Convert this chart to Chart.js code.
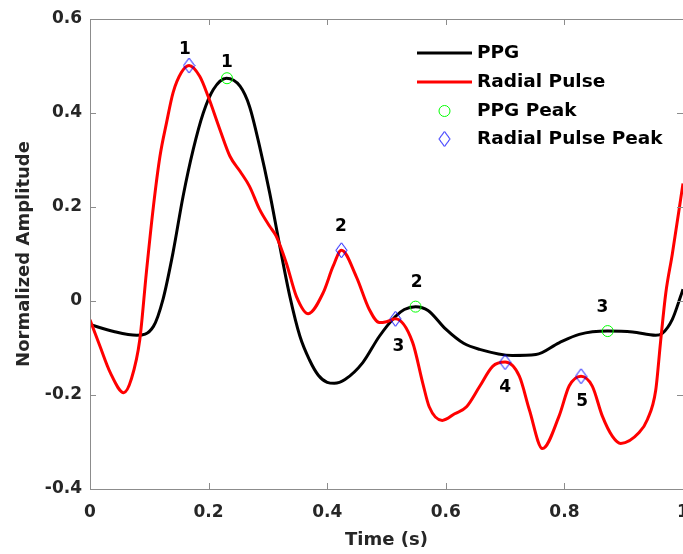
<!DOCTYPE html>
<html>
<head>
<meta charset="utf-8">
<script src="https://cdn.jsdelivr.net/npm/chart.js@4.4.1/dist/chart.umd.min.js"></script>
<style>
  body { margin: 0; background: #fff; }
  canvas { display: block; }
</style>
</head>
<body>
<canvas id="chart" width="683" height="554"></canvas>
<script>
// values
const ppgTime = [0, 0.04, 0.079, 0.107, 0.123, 0.14, 0.157, 0.174, 0.191, 0.208, 0.23, 0.253, 0.269, 0.286, 0.303, 0.32, 0.337, 0.354, 0.37, 0.385, 0.4, 0.412, 0.43, 0.46, 0.488, 0.515, 0.53, 0.549, 0.57, 0.6, 0.63, 0.657, 0.712, 0.752, 0.791, 0.825, 0.873, 0.915, 0.954, 0.965, 0.982, 0.996, 1.0];
const ppgValues = [-0.05, -0.065, -0.073, -0.054, 0.003, 0.103, 0.223, 0.322, 0.40, 0.45, 0.474, 0.457, 0.414, 0.329, 0.23, 0.117, 0.01, -0.075, -0.125, -0.158, -0.173, -0.175, -0.167, -0.131, -0.075, -0.033, -0.018, -0.012, -0.02, -0.06, -0.09, -0.103, -0.116, -0.114, -0.089, -0.071, -0.064, -0.066, -0.073, -0.069, -0.039, 0.01, 0.025];

const radialTime = [0, 0.017, 0.034, 0.057, 0.07, 0.084, 0.095, 0.107, 0.118, 0.129, 0.14, 0.154, 0.167, 0.185, 0.199, 0.219, 0.236, 0.253, 0.269, 0.286, 0.303, 0.314, 0.331, 0.348, 0.368, 0.393, 0.41, 0.424, 0.449, 0.471, 0.488, 0.5, 0.515, 0.544, 0.561, 0.572, 0.594, 0.615, 0.635, 0.657, 0.679, 0.7, 0.724, 0.741, 0.763, 0.791, 0.808, 0.828, 0.847, 0.864, 0.881, 0.895, 0.926, 0.94, 0.954, 0.962, 0.971, 0.982, 1.0];
const radialValues = [-0.04, -0.097, -0.152, -0.195, -0.165, -0.082, 0.06, 0.202, 0.308, 0.379, 0.443, 0.486, 0.501, 0.478, 0.436, 0.365, 0.308, 0.276, 0.244, 0.195, 0.159, 0.138, 0.081, 0.01, -0.027, 0.017, 0.074, 0.108, 0.052, -0.018, -0.046, -0.044, -0.038, -0.088, -0.174, -0.225, -0.254, -0.24, -0.225, -0.182, -0.139, -0.13, -0.16, -0.232, -0.314, -0.245, -0.181, -0.16, -0.181, -0.245, -0.288, -0.303, -0.28, -0.252, -0.19, -0.089, 0.017, 0.10, 0.25];

const ppgPeakTime = [0.231, 0.549, 0.873];
const ppgPeakValues = [0.474, -0.012, -0.064];
const ppgPeakLabels = ['1', '2', '3'];
const ppgLabelTime = [0.231, 0.551, 0.864];
const ppgLabelValues = [0.507, 0.039, -0.014];

const radialPeakTime = [0.167, 0.424, 0.515, 0.70, 0.828];
const radialPeakValues = [0.501, 0.108, -0.038, -0.13, -0.16];
const radialPeakLabels = ['1', '2', '3', '4', '5'];
const radialLabelTime = [0.160, 0.423, 0.520, 0.700, 0.830];
const radialLabelValues = [0.535, 0.158, -0.097, -0.184, -0.214];

const seriesNames = ['PPG', 'Radial Pulse', 'PPG Peak', 'Radial Pulse Peak'];

const xTicks = [0, 0.2, 0.4, 0.6, 0.8, 1];
const yTicks = [-0.4, -0.2, 0, 0.2, 0.4, 0.6];

const FONT = 'DejaVu Sans';
const axisGray = '#8c8c8c';
const textColor = '#262626';

const toPoints = (xs, ys) => xs.map((x, i) => ({ x: x, y: ys[i] }));

// tall thin diamond like matlab's marker
const makeDiamond = () => {
  const c = document.createElement('canvas');
  c.width = 13;
  c.height = 17;
  const g = c.getContext('2d');
  g.strokeStyle = '#0000ff';
  g.lineWidth = 1;
  g.beginPath();
  g.moveTo(6.5, 1);
  g.lineTo(12, 8.5);
  g.lineTo(6.5, 16);
  g.lineTo(1, 8.5);
  g.closePath();
  g.stroke();
  return c;
};
const diamond = makeDiamond();

const fmt = (v) => String(Math.round(v * 10) / 10);

const fixedAxis = (size, isX) => (scale) => {
  if (isX) scale.height = size;
  else scale.width = size;
  scale.paddingLeft = 0;
  scale.paddingRight = 0;
  scale.paddingTop = 0;
  scale.paddingBottom = 0;
};

const decorations = {
  id: 'decorations',
  afterDraw(chart) {
    const ctx = chart.ctx;
    const a = chart.chartArea;
    const xs = chart.scales.x;
    const ys = chart.scales.y;
    ctx.save();

    // box and inward ticks
    ctx.strokeStyle = axisGray;
    ctx.lineWidth = 1;
    ctx.strokeRect(Math.round(a.left) + 0.5, Math.round(a.top) + 0.5,
      Math.round(a.right - a.left), Math.round(a.bottom - a.top));
    ctx.beginPath();
    xTicks.forEach((t) => {
      const px = Math.round(xs.getPixelForValue(t)) + 0.5;
      ctx.moveTo(px, a.bottom);
      ctx.lineTo(px, a.bottom - 6);
      ctx.moveTo(px, a.top);
      ctx.lineTo(px, a.top + 6);
    });
    yTicks.forEach((t) => {
      const py = Math.round(ys.getPixelForValue(t)) + 0.5;
      ctx.moveTo(a.left, py);
      ctx.lineTo(a.left + 6, py);
      ctx.moveTo(a.right, py);
      ctx.lineTo(a.right - 6, py);
    });
    ctx.stroke();

    // peak numbers
    ctx.fillStyle = '#000';
    ctx.font = `bold 17px "${FONT}"`;
    ctx.textAlign = 'center';
    ctx.textBaseline = 'middle';
    const putLabels = (times, values, labels) => {
      labels.forEach((lab, i) => {
        ctx.fillText(lab, xs.getPixelForValue(times[i]), ys.getPixelForValue(values[i]));
      });
    };
    putLabels(ppgLabelTime, ppgLabelValues, ppgPeakLabels);
    putLabels(radialLabelTime, radialLabelValues, radialPeakLabels);

    // legend
    const lx0 = 417;
    const lx1 = 472;
    const rows = [53, 82, 111, 139];
    ctx.lineWidth = 3;
    ctx.strokeStyle = '#000';
    ctx.beginPath();
    ctx.moveTo(lx0, rows[0]);
    ctx.lineTo(lx1, rows[0]);
    ctx.stroke();
    ctx.strokeStyle = '#ff0000';
    ctx.beginPath();
    ctx.moveTo(lx0, rows[1]);
    ctx.lineTo(lx1, rows[1]);
    ctx.stroke();
    ctx.lineWidth = 1;
    ctx.strokeStyle = '#00ff00';
    ctx.beginPath();
    ctx.arc((lx0 + lx1) / 2, rows[2], 5.5, 0, Math.PI * 2);
    ctx.stroke();
    ctx.drawImage(diamond, (lx0 + lx1) / 2 - 6.5, rows[3] - 8.5);

    ctx.fillStyle = '#000';
    ctx.font = `bold 18.5px "${FONT}"`;
    ctx.textAlign = 'left';
    seriesNames.forEach((name, i) => ctx.fillText(name, 477, rows[i]));

    ctx.restore();
  },
};

new Chart(document.getElementById('chart'), {
  type: 'scatter',
  data: {
    datasets: [
      {
        label: seriesNames[2],
        data: toPoints(ppgPeakTime, ppgPeakValues),
        pointStyle: 'circle',
        pointRadius: 5.5,
        borderColor: '#00ff00',
        backgroundColor: 'rgba(0,0,0,0)',
        borderWidth: 1,
        order: 0,
      },
      {
        label: seriesNames[3],
        data: toPoints(radialPeakTime, radialPeakValues),
        pointStyle: diamond,
        pointRadius: 6,
        order: 0,
      },
      {
        label: seriesNames[1],
        data: toPoints(radialTime, radialValues),
        showLine: true,
        borderColor: '#ff0000',
        borderWidth: 3,
        pointRadius: 0,
        cubicInterpolationMode: 'monotone',
        order: 1,
      },
      {
        label: seriesNames[0],
        data: toPoints(ppgTime, ppgValues),
        showLine: true,
        borderColor: '#000000',
        borderWidth: 3,
        pointRadius: 0,
        cubicInterpolationMode: 'monotone',
        order: 2,
      },
    ],
  },
  options: {
    responsive: false,
    animation: false,
    events: [],
    layout: { autoPadding: false, padding: { top: 19, right: -1, left: 0, bottom: 0 } },
    plugins: {
      legend: { display: false },
      tooltip: { enabled: false },
    },
    scales: {
      x: {
        type: 'linear',
        min: 0,
        max: 1,
        afterFit: fixedAxis(65, true),
        afterBuildTicks: (s) => { s.ticks = xTicks.map((v) => ({ value: v })); },
        grid: { display: false, drawTicks: false },
        border: { display: false },
        ticks: {
          padding: 13,
          color: textColor,
          font: { family: FONT, size: 17, weight: 'bold' },
          callback: fmt,
          maxRotation: 0,
          autoSkip: false,
        },
        title: {
          display: true,
          text: 'Time (s)',
          color: textColor,
          font: { family: FONT, size: 18, weight: 'bold' },
          padding: { top: 0, bottom: 3 },
        },
      },
      y: {
        min: -0.4,
        max: 0.6,
        afterFit: fixedAxis(90, false),
        afterBuildTicks: (s) => { s.ticks = yTicks.map((v) => ({ value: v })); },
        grid: { display: false, drawTicks: false },
        border: { display: false },
        ticks: {
          padding: 8,
          color: textColor,
          font: { family: FONT, size: 17, weight: 'bold' },
          callback: fmt,
          autoSkip: false,
        },
        title: {
          display: true,
          text: 'Normalized Amplitude',
          color: textColor,
          font: { family: FONT, size: 18, weight: 'bold' },
          padding: { top: 14, bottom: 0 },
        },
      },
    },
  },
  plugins: [decorations],
});
</script>
</body>
</html>
